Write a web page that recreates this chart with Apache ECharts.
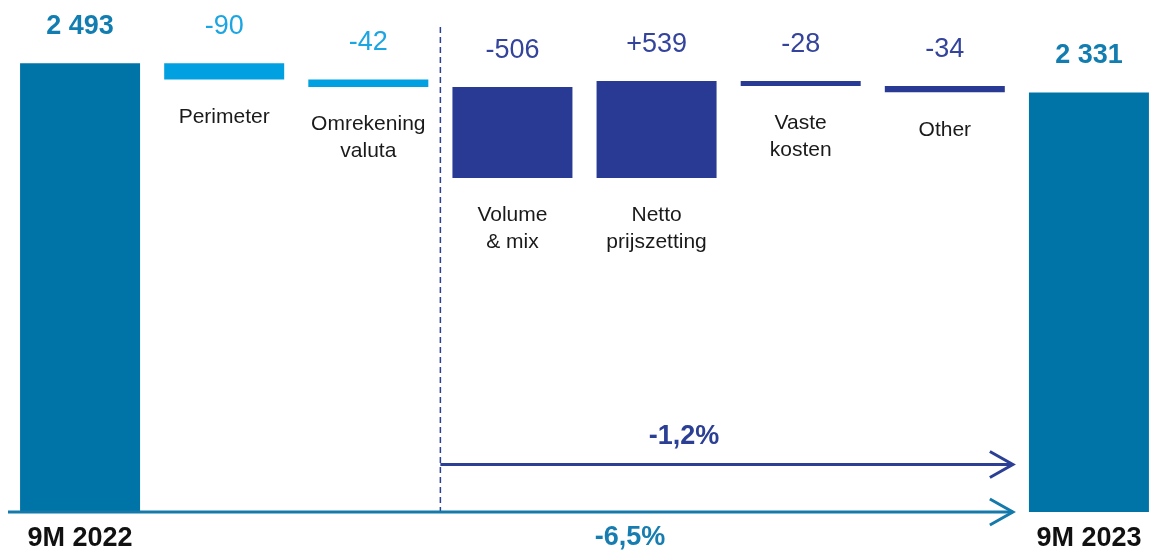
<!DOCTYPE html>
<html><head><meta charset="utf-8">
<script src="https://cdn.jsdelivr.net/npm/echarts@6/dist/echarts.min.js"></script>
<style>html,body{margin:0;padding:0;background:#fff}#c{width:1151px;height:553px}</style>
</head><body><div id="c"></div>
<script>
// ---- data ----
const categories = ['9M 2022', 'Perimeter', 'Omrekening\nvaluta', 'Volume\n& mix', 'Netto\nprijszetting', 'Vaste\nkosten', 'Other', '9M 2023'];
const startValue = 2493;
const deltas = [-90, -42, -506, 539, -28, -34];
const endValue = 2331;
const changeOrganic = '-1,2%';
const changeTotal = '-6,5%';

// ---- derived waterfall ----
const fmtTotal = v => String(v).replace(/\B(?=(\d{3})+(?!\d))/g, ' ');
const bases = [0], heights = [startValue], valueLabels = [fmtTotal(startValue)];
let run = startValue;
deltas.forEach(d => {
  const next = run + d;
  bases.push(Math.min(run, next));
  heights.push(Math.abs(d));
  valueLabels.push((d > 0 ? '+' : '') + d);
  run = next;
});
bases.push(0); heights.push(endValue); valueLabels.push(fmtTotal(endValue));

const TEAL = '#0074a7', LIGHT = '#00a0e1', NAVY = '#283a94';
const last = categories.length - 1;
const colorOf = i => (i === 0 || i === last) ? TEAL : (i <= 2 ? LIGHT : NAVY);
const labelColorOf = i => (i === 0 || i === last) ? '#127db0' : (i <= 2 ? '#1ba5e3' : '#34449c');
const FONT = 'Liberation Sans, Arial, sans-serif';

const chart = echarts.init(document.getElementById('c'), null, {renderer: 'canvas'});
chart.setOption({
  animation: false,
  grid: {left: 8, top: 8, width: 1153, height: 504, outerBoundsMode: 'none', containLabel: false},
  xAxis: {
    type: 'category', data: categories,
    axisLine: {show: false}, axisTick: {show: false}, splitLine: {show: false},
    axisLabel: {
      interval: 0, margin: 13,
      formatter: (v, i) => (i === 0 || i === last) ? v : '',
      fontFamily: FONT, fontSize: 27, fontWeight: 'bold', color: '#111'
    }
  },
  yAxis: {type: 'value', min: 0, max: 2800, show: false},
  series: [
    {
      type: 'bar', stack: 'w', barWidth: 120, silent: true,
      itemStyle: {color: 'rgba(0,0,0,0)'},
      data: bases,
      label: {
        show: true, position: 'insideTop', distance: 24,
        formatter: p => (p.dataIndex > 0 && p.dataIndex < last) ? categories[p.dataIndex] : '',
        fontFamily: FONT, fontSize: 21, lineHeight: 27, color: '#1a1a1a'
      }
    },
    {
      type: 'bar', stack: 'w', barWidth: 120,
      data: heights.map((h, i) => ({
        value: h,
        itemStyle: {color: colorOf(i)},
        label: {color: labelColorOf(i), fontWeight: (i === 0 || i === last) ? 'bold' : 'normal'}
      })),
      label: {
        show: true, position: 'top', distance: 23,
        formatter: p => valueLabels[p.dataIndex],
        fontFamily: FONT, fontSize: 27
      }
    }
  ]
});

// ---- annotations (dashed separator and arrows) ----
const px = i => chart.convertToPixel({xAxisIndex: 0, yAxisIndex: 0}, [i, 0]);
const c2 = px(2)[0], c3 = px(3)[0], c6 = px(6)[0], c7 = px(7)[0];
const y0 = px(0)[1];
const xDash = (c2 + c3) / 2;
const xEnd = (c6 + c7) / 2 - 4;
const yArrow = y0 - 47.5;
const chevron = (x, y, col) => ({
  type: 'polyline', z: 100,
  shape: {points: [[x - 23, y - 13], [x, y], [x - 23, y + 13]]},
  style: {stroke: col, lineWidth: 3, fill: null}
});
chart.setOption({
  graphic: [
    {type: 'line', z: 100, shape: {x1: xDash, y1: 27, x2: xDash, y2: y0},
     style: {stroke: '#2b3f95', lineWidth: 1.5, lineDash: [6, 4]}},
    {type: 'line', z: 100, shape: {x1: xDash, y1: yArrow, x2: xEnd, y2: yArrow},
     style: {stroke: '#2b3f95', lineWidth: 3}},
    chevron(xEnd, yArrow, '#2b3f95'),
    {type: 'line', z: 100, shape: {x1: 8, y1: y0, x2: xEnd, y2: y0},
     style: {stroke: '#1479ab', lineWidth: 3}},
    chevron(xEnd, y0, '#1479ab'),
    {type: 'text', z: 100, x: 684, y: yArrow - 28,
     style: {text: changeOrganic, fill: '#2b3f95', font: 'bold 27px ' + FONT, align: 'center', verticalAlign: 'middle'}},
    {type: 'text', z: 100, x: 630, y: y0 + 26,
     style: {text: changeTotal, fill: '#177db1', font: 'bold 27px ' + FONT, align: 'center', verticalAlign: 'middle'}}
  ]
});
</script>
</body></html>
